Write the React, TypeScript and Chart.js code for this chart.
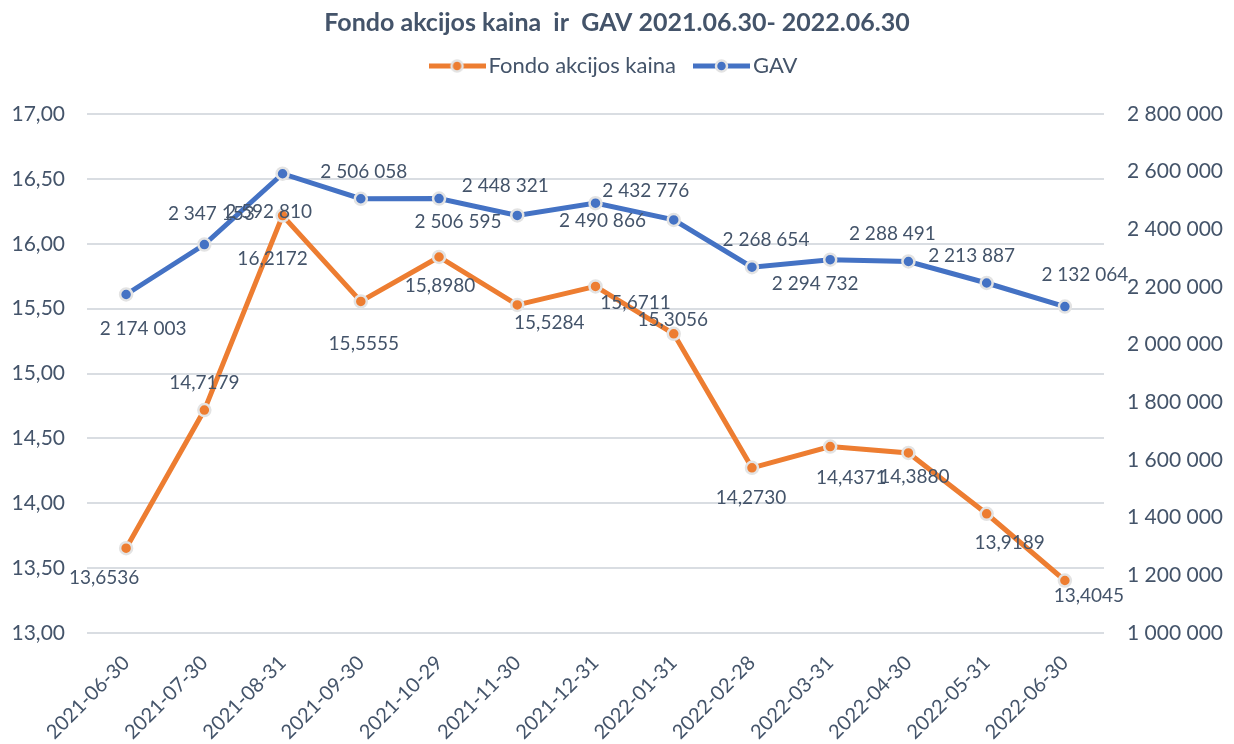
import React, { useEffect, useRef } from 'react';
import { Chart, registerables } from 'chart.js';

Chart.register(...registerables);

// ---------- data ----------
const categories = [
  '2021-06-30', '2021-07-30', '2021-08-31', '2021-09-30', '2021-10-29', '2021-11-30', '2021-12-31',
  '2022-01-31', '2022-02-28', '2022-03-31', '2022-04-30', '2022-05-31', '2022-06-30',
];
const priceValues = [
  13.6536, 14.7179, 16.2172, 15.5555, 15.898, 15.5284, 15.6711,
  15.3056, 14.273, 14.4371, 14.388, 13.9189, 13.4045,
];
const gavValues = [
  2174003, 2347153, 2592810, 2506058, 2506595, 2448321, 2490866,
  2432776, 2268654, 2294732, 2288491, 2213887, 2132064,
];
const priceAxisTicks = { min: 13, max: 17, step: 0.5 };
const gavAxisTicks = { min: 1000000, max: 2800000, step: 200000 };
const titleText = 'Fondo akcijos kaina  ir  GAV 2021.06.30- 2022.06.30';
const priceName = 'Fondo akcijos kaina';
const gavName = 'GAV';

// ---------- label placement (pixel offsets from each point) ----------
const priceLabelOffsets: [number, number][] = [
  [-22, 30], [0, -27], [-10, 43], [3, 42], [1, 29], [32, 18], [40, 16],
  [-1, -14], [-1, 30], [21, 31], [6, 24], [23, 29], [24, 15],
];
const gavLabelOffsets: [number, number][] = [
  [17, 34], [7, -31], [-14, 38], [3, -27], [19, 23], [-12, -30], [7, 18],
  [-28, -29], [14, -27], [-15, 24], [-16, -28], [-15, -27], [20, -32],
];

// ---------- styles ----------
const TEXT = '#44546A';
const ORANGE = '#ED7D31';
const BLUE = '#4472C4';
const RING = '#E3E3E3';
const GRID = '#D9DDE2';
const FONT = 'Lato, "Open Sans", sans-serif';

const fmtDec = (v: number, d: number) => v.toFixed(d).replace('.', ',');
const fmtThousands = (v: number) =>
  Math.round(v).toString().replace(/\B(?=(\d{3})+(?!\d))/g, ' ');

function makeSwatch(color: string) {
  const c = document.createElement('canvas');
  c.width = 57;
  c.height = 16;
  const ctx = c.getContext('2d')!;
  ctx.strokeStyle = color;
  ctx.lineWidth = 5;
  ctx.beginPath();
  ctx.moveTo(0, 8);
  ctx.lineTo(57, 8);
  ctx.stroke();
  ctx.beginPath();
  ctx.arc(28.5, 8, 5.5, 0, Math.PI * 2);
  ctx.fillStyle = color;
  ctx.fill();
  ctx.lineWidth = 2.5;
  ctx.strokeStyle = RING;
  ctx.stroke();
  return c;
}

const pointLabelPlugin = {
  id: 'pointLabels',
  afterDatasetsDraw(chart: any) {
    const ctx = chart.ctx;
    ctx.save();
    ctx.font = `19px ${FONT}`;
    ctx.fillStyle = TEXT;
    ctx.textAlign = 'center';
    ctx.textBaseline = 'middle';
    chart.data.datasets.forEach((ds: any, di: number) => {
      const meta = chart.getDatasetMeta(di);
      const offs = di === 0 ? priceLabelOffsets : gavLabelOffsets;
      const fmt = di === 0 ? (v: number) => fmtDec(v, 4) : fmtThousands;
      meta.data.forEach((el: any, i: number) => {
        const [dx, dy] = offs[i];
        ctx.fillText(fmt(ds.data[i]), el.x + dx, el.y + dy);
      });
    });
    ctx.restore();
  },
};

export default function App() {
  const ref = useRef<HTMLCanvasElement | null>(null);

  useEffect(() => {
    document.body.style.margin = '0';
    if (!ref.current) return;
    const swatches = [makeSwatch(ORANGE), makeSwatch(BLUE)];
    const chart = new Chart(ref.current, {
      type: 'line',
      data: {
        labels: categories,
        datasets: [
          {
            label: priceName,
            data: priceValues,
            xAxisID: 'x',
            yAxisID: 'y',
            borderColor: ORANGE,
            backgroundColor: ORANGE,
            borderWidth: 5,
            pointRadius: 6,
            pointHoverRadius: 6,
            pointBackgroundColor: ORANGE,
            pointBorderColor: RING,
            pointBorderWidth: 2.5,
            tension: 0,
          },
          {
            label: gavName,
            data: gavValues,
            xAxisID: 'x',
            yAxisID: 'y1',
            borderColor: BLUE,
            backgroundColor: BLUE,
            borderWidth: 5,
            pointRadius: 6,
            pointHoverRadius: 6,
            pointBackgroundColor: BLUE,
            pointBorderColor: RING,
            pointBorderWidth: 2.5,
            tension: 0,
          },
        ],
      },
      options: {
        responsive: false,
        animation: false,
        devicePixelRatio: 1,
        layout: { padding: 0 },
        plugins: {
          tooltip: { enabled: false },
          title: {
            display: true,
            text: titleText,
            color: TEXT,
            font: { family: FONT, size: 25, weight: 'bold', lineHeight: 1.2 },
            padding: { top: 7.5, bottom: -7.5 },
          },
          legend: {
            display: true,
            position: 'top',
            labels: {
              usePointStyle: true,
              pointStyleWidth: 41,
              padding: 25,
              color: TEXT,
              font: { family: FONT, size: 22 },
              generateLabels: (ch: any) =>
                ch.data.datasets.map((ds: any, i: number) => ({
                  text: ds.label,
                  pointStyle: swatches[i],
                  fillStyle: ds.borderColor,
                  strokeStyle: ds.borderColor,
                  lineWidth: 0,
                  hidden: false,
                  datasetIndex: i,
                  fontColor: TEXT,
                })),
            },
          },
        },
        scales: {
          x: {
            type: 'category',
            offset: true,
            grid: { display: false, drawTicks: false },
            border: { display: false },
            ticks: {
              color: TEXT,
              font: { family: FONT, size: 20 },
              minRotation: 45,
              maxRotation: 45,
              autoSkip: false,
              padding: 18,
            },
            afterFit: (s: any) => {
              s.height = 111;
            },
          },
          xTop: {
            type: 'category',
            position: 'top',
            display: true,
            grid: { display: false, drawTicks: false },
            border: { display: false },
            ticks: { display: false },
            afterFit: (s: any) => {
              s.height = 27;
            },
          },
          y: {
            type: 'linear',
            position: 'left',
            min: priceAxisTicks.min,
            max: priceAxisTicks.max,
            grid: { color: GRID, lineWidth: 2, drawTicks: false },
            border: { display: false },
            ticks: {
              stepSize: priceAxisTicks.step,
              color: TEXT,
              font: { family: FONT, size: 21 },
              padding: 22,
              callback: (v: any) => fmtDec(Number(v), 2),
            },
            afterFit: (s: any) => {
              s.width = 87;
            },
          },
          y1: {
            type: 'linear',
            position: 'right',
            min: gavAxisTicks.min,
            max: gavAxisTicks.max,
            grid: { display: false, drawTicks: false },
            border: { display: false },
            ticks: {
              stepSize: gavAxisTicks.step,
              color: TEXT,
              font: { family: FONT, size: 21 },
              padding: 23,
              callback: (v: any) => fmtThousands(Number(v)),
            },
            afterFit: (s: any) => {
              s.width = 130;
            },
          },
        },
      } as any,
      plugins: [pointLabelPlugin],
    });
    return () => chart.destroy();
  }, []);

  return (
    <div style={{ width: 1234, height: 744, background: '#fff' }}>
      <canvas ref={ref} width={1234} height={744} style={{ display: 'block' }} />
    </div>
  );
}
